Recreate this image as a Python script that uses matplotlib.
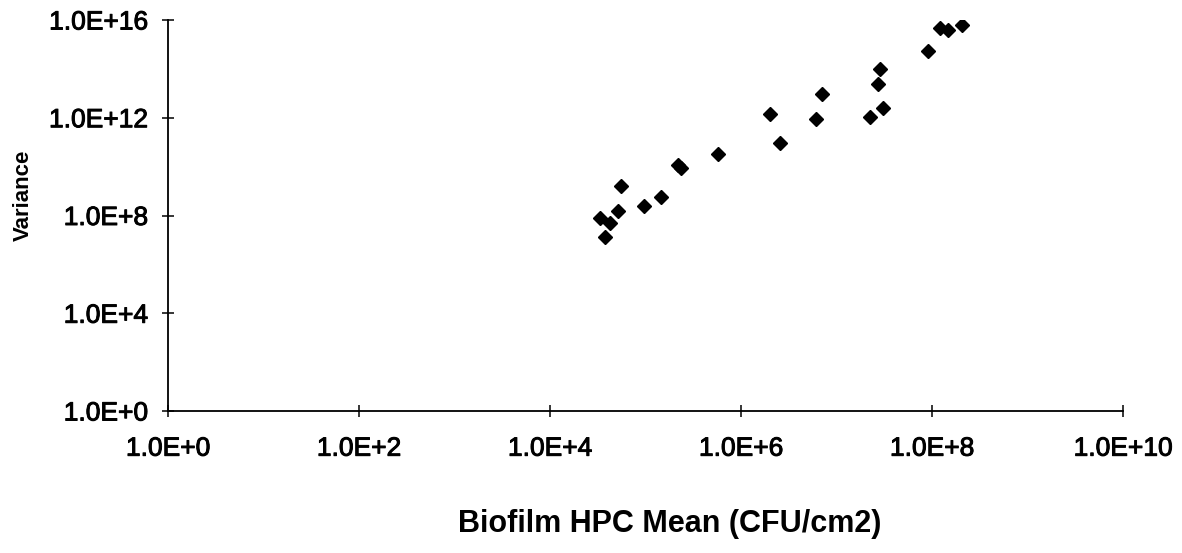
import matplotlib
matplotlib.use('Agg')
import matplotlib.pyplot as plt
import matplotlib.patheffects as pe
import numpy as np
from matplotlib.ticker import FixedLocator, FuncFormatter, NullLocator

# Biofilm HPC: per-site mean vs variance (CFU/cm2)
hpc_mean = [3.35e4, 3.80e4, 4.27e4, 5.19e4, 5.58e4, 9.6e4, 1.47e5, 2.17e5,
            2.33e5, 5.68e5, 2.02e6, 2.59e6, 6.10e6, 7.11e6, 2.25e7, 2.73e7,
            2.87e7, 3.10e7, 9.0e7, 1.20e8, 1.46e8, 2.04e8]
hpc_var = [7.8e7, 1.35e7, 5.0e7, 1.58e8, 1.55e9, 2.45e8, 5.6e8, 1.17e10,
           8.9e9, 3.3e10, 1.38e12, 8.9e10, 8.9e11, 9.3e12, 1.07e12, 2.5e13,
           1.02e14, 2.6e12, 5.5e14, 4.8e15, 4.0e15, 6.5e15]

x_ticks = [1e0, 1e2, 1e4, 1e6, 1e8, 1e10]
y_ticks = [1e0, 1e4, 1e8, 1e12, 1e16]

plt.rcParams['font.family'] = ['Liberation Sans', 'DejaVu Sans']

W, H = 1182, 553
fig = plt.figure(figsize=(W / 100, H / 100), dpi=100)
# axes box in pixels: left 168, right 1123, top 20, bottom 411
ax = fig.add_axes([168 / W, 1 - 411 / H, (1123 - 168) / W, (411 - 20) / H])

ax.plot(hpc_mean, hpc_var, linestyle='none', marker='D', markersize=7,
        color='black', markeredgewidth=1.0, markeredgecolor='black')

ax.set_xscale('log')
ax.set_yscale('log')
ax.set_xlim(1e0, 1e10)
ax.set_ylim(1e0, 1e16)

fmt = FuncFormatter(lambda v, pos: f"1.0E+{int(round(np.log10(v)))}")
ax.xaxis.set_major_locator(FixedLocator(x_ticks))
ax.yaxis.set_major_locator(FixedLocator(y_ticks))
ax.xaxis.set_minor_locator(NullLocator())
ax.yaxis.set_minor_locator(NullLocator())
ax.xaxis.set_major_formatter(fmt)
ax.yaxis.set_major_formatter(fmt)

for side in ['top', 'right']:
    ax.spines[side].set_visible(False)
for side in ['left', 'bottom']:
    ax.spines[side].set_linewidth(1.3)
    ax.spines[side].set_color('black')

ax.tick_params(axis='both', direction='inout', length=9, width=1.1,
               colors='black', labelsize=19)
ax.tick_params(axis='x', pad=14)
ax.tick_params(axis='y', pad=10)

# slightly heavier tick text
heavy = [pe.withStroke(linewidth=0.7, foreground='black')]
for lbl in ax.get_xticklabels() + ax.get_yticklabels():
    lbl.set_path_effects(heavy)

ax.set_xlabel("Biofilm HPC Mean (CFU/cm2)", fontsize=22, fontweight='bold')
ax.xaxis.set_label_coords((670 - 168) / 955, (411 - 524) / 391)
ax.xaxis.label.set_va('center')
ax.set_ylabel("Variance", fontsize=16, fontweight='bold')
ax.yaxis.set_label_coords((23 - 168) / 955, (411 - 195) / 391)
ax.yaxis.label.set_va('center')

fig.savefig("out.png", dpi=100)
